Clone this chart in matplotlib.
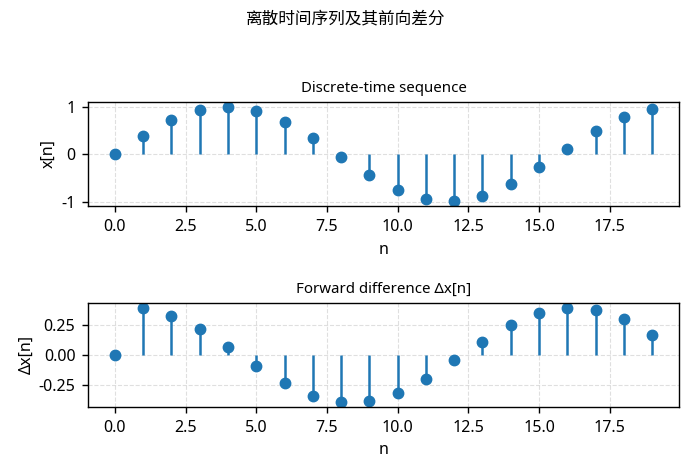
import matplotlib
matplotlib.use("Agg")
import matplotlib.pyplot as plt
import numpy as np

plt.rcParams['font.family'] = ['Noto Sans', 'Noto Sans CJK SC', 'DejaVu Sans']
plt.rcParams['axes.unicode_minus'] = False
plt.rcParams['axes.linewidth'] = 1.0
plt.rcParams['xtick.major.size'] = 4.5
plt.rcParams['ytick.major.size'] = 4.5
plt.rcParams['xtick.major.width'] = 1.0
plt.rcParams['ytick.major.width'] = 1.0
plt.rcParams['xtick.major.pad'] = 4.5
plt.rcParams['ytick.major.pad'] = 4.5

n = list(range(20))

# x[n] values
x = [0.0, 0.389, 0.717, 0.932, 1.0, 0.909, 0.675, 0.335, -0.058, -0.443,
     -0.757, -0.952, -0.996, -0.883, -0.631, -0.279, 0.117, 0.494, 0.793, 0.959]

# forward difference values
dx = [0.0, 0.389, 0.328, 0.215, 0.068, -0.091, -0.234, -0.340, -0.393, -0.385,
      -0.314, -0.195, -0.044, 0.113, 0.252, 0.352, 0.396, 0.377, 0.299, 0.166]

fig, (ax1, ax2) = plt.subplots(2, 1, figsize=(6.91, 4.73), dpi=100)
fig.subplots_adjust(left=88/691, right=679/691, top=1-102/473, bottom=1-407/473,
                    hspace=0.93)

for ax, y, title, ylab in [(ax1, x, "Discrete-time sequence", "x[n]"),
                           (ax2, dx, "Forward difference Δx[n]", "Δx[n]")]:
    markerline, stemlines, baseline = ax.stem(n, y, basefmt=" ")
    markerline.set_markersize(7.5)
    stemlines.set_linewidth(1.8)
    ax.set_title(title, fontsize=10.8, pad=7)
    ax.set_xlabel("n", fontsize=11.5, labelpad=5)
    ax.set_ylabel(ylab, fontsize=11.5, labelpad=3)
    ax.tick_params(labelsize=11.5)
    ax.grid(True, linestyle="--", alpha=0.4)

fig.suptitle("离散时间序列及其前向差分", fontsize=12, y=0.975)
fig.savefig("out.png", dpi=100)
